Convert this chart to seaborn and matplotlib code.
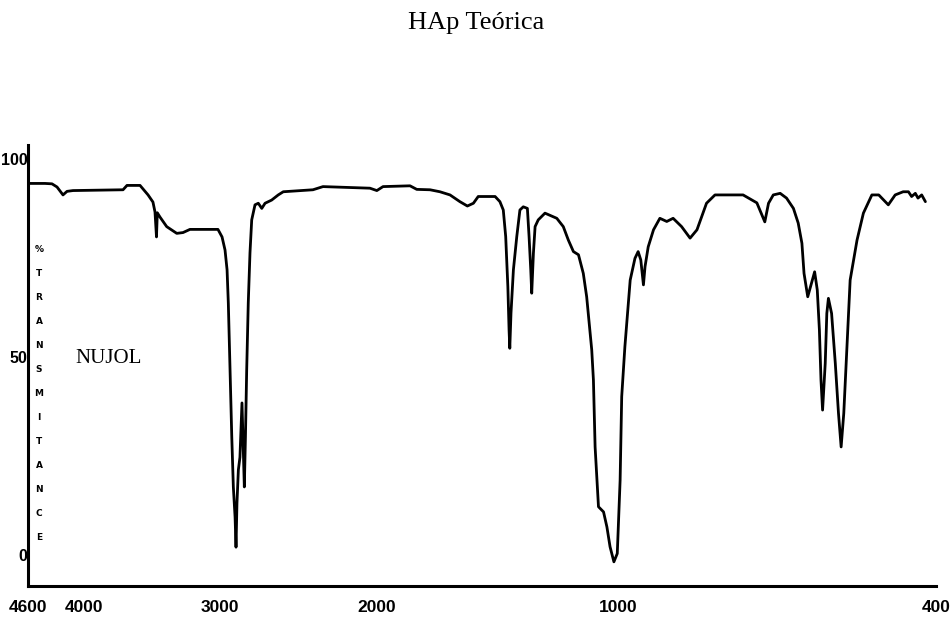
import numpy as np
import pandas as pd
import matplotlib
matplotlib.use("Agg")
import matplotlib.pyplot as plt
import seaborn as sns

# ---- data ----
wavenumber = [4589, 4418, 4343, 4289, 4225, 4182, 4118, 3713, 3684, 3588,
              3529, 3493, 3478, 3467, 3461, 3441, 3392, 3318, 3272, 3221,
              3015, 2987, 2968, 2955, 2947, 2936, 2925, 2915, 2904, 2898,
              2892, 2883, 2873, 2860, 2845, 2838, 2830, 2820, 2809, 2798,
              2777, 2756, 2734, 2713, 2671, 2629, 2597, 2408, 2344, 2045,
              2001, 1975, 1863, 1835, 1780, 1739, 1697, 1656, 1625, 1600,
              1580, 1510, 1490, 1476, 1466, 1457, 1452, 1449, 1444, 1434,
              1420, 1407, 1393, 1376, 1369, 1362, 1358, 1351, 1344, 1331,
              1303, 1254, 1227, 1206, 1185, 1164, 1144, 1130, 1109, 1102,
              1095, 1081, 1060, 1046, 1033, 1017, 1003, 996, 993, 987,
              977, 968, 962, 957, 952, 949, 943, 933, 921, 908,
              896, 880, 864, 851, 833, 817, 764, 738, 723, 716,
              707, 694, 682, 669, 660, 653, 649, 642, 635, 629,
              624, 620, 617, 614, 609, 606, 603, 597, 590, 584,
              579, 574, 568, 562, 549, 537, 521, 508, 490, 477,
              462, 452, 446, 439, 434, 427, 420]
transmittance = [93.8, 93.8, 93.7, 92.9, 90.9, 91.8, 92.0, 92.2, 93.3, 93.3,
                 90.9, 89.1, 86.6, 80.3, 86.4, 85.3, 82.9, 81.2, 81.4, 82.2,
                 82.2, 80.3, 77.0, 72.0, 63.6, 46.7, 29.8, 17.2, 9.6, 2.0,
                 13.1, 21.5, 24.7, 38.4, 17.2, 29.8, 46.7, 63.6, 76.3, 84.6,
                 88.4, 88.8, 87.5, 88.8, 89.6, 90.9, 91.7, 92.2, 93.0, 92.6,
                 92.0, 93.0, 93.2, 92.3, 92.2, 91.7, 90.9, 89.2, 88.1, 88.8,
                 90.5, 90.5, 89.2, 87.1, 80.4, 67.7, 56.8, 52.2, 61.1, 72.0,
                 80.4, 87.1, 87.9, 87.5, 80.4, 72.0, 66.1, 76.2, 82.9, 84.6,
                 86.3, 85.0, 82.9, 79.5, 76.6, 75.8, 71.1, 65.2, 51.8, 44.2,
                 27.3, 12.2, 10.9, 7.1, 2.1, -1.7, 0.4, 18.9, 40.0, 52.6,
                 69.4, 74.9, 76.6, 74.5, 68.2, 72.8, 77.8, 82.1, 85.0, 84.2,
                 85.0, 82.9, 80.0, 82.1, 88.8, 90.9, 90.9, 88.9, 84.1, 88.8,
                 90.9, 91.3, 90.1, 87.5, 83.8, 78.7, 71.1, 65.2, 68.6, 71.5,
                 66.9, 56.8, 44.2, 36.6, 48.4, 61.0, 64.8, 61.0, 48.4, 35.8,
                 27.3, 35.8, 52.6, 69.4, 79.5, 86.3, 90.9, 90.9, 88.4, 90.9,
                 91.7, 91.7, 90.5, 91.3, 90.1, 90.9, 89.2]
x_ticks = [4600, 4000, 3000, 2000, 1000, 400]
x_tick_labels = ["4600", "4000", "3000", "2000", "1000", "400"]
y_ticks = [0, 50, 100]
y_tick_labels = ["0", "50", "100"]
title = "HAp Teórica"
annotation = "NUJOL"
y_label = "%TRANSMITANCE"

df = pd.DataFrame({"wavenumber": wavenumber, "T": transmittance})

# ---- piecewise-linear wavenumber axis (as on the original chart paper) ----
_scale_wn = np.array([-10000, 400, 1000, 2000, 3000, 4000, 4600, 20000], dtype=float)
_scale_u = np.array([-5512, 0, 318, 559, 716, 852, 908, 2345], dtype=float)

def fwd(v):
    return np.interp(np.asarray(v, dtype=float), _scale_wn, _scale_u)

def inv(u):
    return np.interp(np.asarray(u, dtype=float), _scale_u, _scale_wn)

sns.set_style("white")
plt.rcParams["text.color"] = "black"
plt.rcParams["xtick.color"] = "black"
plt.rcParams["ytick.color"] = "black"

W, H = 953, 627
fig = plt.figure(figsize=(W / 100, H / 100), dpi=100)
ax = fig.add_axes([28 / W, 1 - 586 / H, (936 - 28) / W, (586 - 145) / H])
ax.set_xscale("function", functions=(fwd, inv))

sns.lineplot(data=df, x="wavenumber", y="T", sort=False, estimator=None,
             color="black", linewidth=2.0, ax=ax)

ax.set_xlim(4600, 400)
ax.set_ylim(-7.8, 103.5)
ax.set_xlabel("")
ax.set_ylabel("")

for s in ["top", "right"]:
    ax.spines[s].set_visible(False)
for s in ["left", "bottom"]:
    ax.spines[s].set_color("black")
    ax.spines[s].set_linewidth(2.2)

fam = ["Liberation Sans Narrow", "Liberation Sans", "DejaVu Sans"]
ax.set_xticks(x_ticks)
ax.set_xticklabels(x_tick_labels, family=fam, weight="bold", size=12.5, color="black")
ax.set_yticks(y_ticks)
ax.set_yticklabels(y_tick_labels, family=fam, weight="bold", size=11.5, color="black")
ax.xaxis.set_minor_locator(matplotlib.ticker.NullLocator())
ax.tick_params(axis="x", length=0, pad=10)
ax.tick_params(axis="y", length=0, pad=0.5)

# vertical stacked axis label
n = len(y_label)
y0, y1 = 250, 537
for i, ch in enumerate(y_label):
    yp = y0 + (y1 - y0) * i / (n - 1)
    fig.text(39 / W, 1 - yp / H, ch, ha="center", va="center", color="black",
             fontsize=6.5, fontweight="bold", family="DejaVu Sans")

ax.text(0.052, 0.517, annotation, transform=ax.transAxes, ha="left", va="center",
        fontsize=15, color="black", family=["Liberation Serif", "DejaVu Serif"])

fig.text(0.5, 1 - 23 / H, title, ha="center", va="center", color="black",
         fontsize=19, family=["Liberation Serif", "DejaVu Serif"])

fig.savefig("out.png", dpi=100, facecolor="white")
